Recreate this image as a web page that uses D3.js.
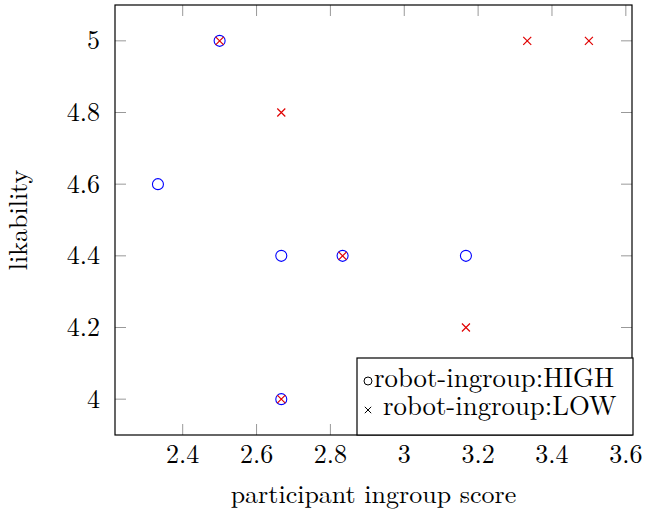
<!DOCTYPE html>
<html>
<head>
<script src="https://d3js.org/d3.v7.min.js"></script>
<style>
  body { margin: 0; background: #fff; }
</style>
</head>
<body>
<svg width="646" height="512" font-family="'Latin Modern Roman', 'CMU Serif', 'Liberation Serif', serif"></svg>
<script>
// data
const highX = [2.333, 2.5, 2.667, 2.667, 2.833, 3.167];
const highY = [4.6, 5, 4.4, 4, 4.4, 4.4];
const lowX = [2.5, 2.667, 2.667, 2.833, 3.167, 3.333, 3.5];
const lowY = [5, 4.8, 4, 4.4, 4.2, 5, 5];
const xTicks = [2.4, 2.6, 2.8, 3, 3.2, 3.4, 3.6];
const yTicks = [4, 4.2, 4.4, 4.6, 4.8, 5];
const legendLabels = ["robot-ingroup:HIGH", "robot-ingroup:LOW"];

const svg = d3.select("svg");
const pLeft = 115, pRight = 632, pTop = 5, pBottom = 435;
const fontSize = 26;

const x = d3.scaleLinear().domain([2.2167, 3.6167]).range([pLeft, pRight]);
const y = d3.scaleLinear().domain([3.9, 5.1]).range([pBottom, pTop]);

const fmt = d => String(+d.toFixed(1));
const tickLen = 11, tickColor = "#999";

// ticks inside on all four sides
const grid = svg.append("g").attr("stroke", tickColor).attr("stroke-width", 1);
xTicks.forEach(t => {
  grid.append("line").attr("x1", x(t)).attr("x2", x(t)).attr("y1", pBottom).attr("y2", pBottom - tickLen);
  grid.append("line").attr("x1", x(t)).attr("x2", x(t)).attr("y1", pTop).attr("y2", pTop + tickLen);
});
yTicks.forEach(t => {
  grid.append("line").attr("x1", pLeft).attr("x2", pLeft + tickLen).attr("y1", y(t)).attr("y2", y(t));
  grid.append("line").attr("x1", pRight).attr("x2", pRight - tickLen).attr("y1", y(t)).attr("y2", y(t));
});

// tick labels
svg.append("g").selectAll("text").data(xTicks).join("text")
  .attr("x", d => x(d)).attr("y", 463)
  .attr("text-anchor", "middle").attr("font-size", fontSize)
  .text(fmt);
svg.append("g").selectAll("text").data(yTicks).join("text")
  .attr("x", 100).attr("y", d => y(d) + 8.5)
  .attr("text-anchor", "end").attr("font-size", fontSize)
  .text(fmt);

// frame
svg.append("rect").attr("x", pLeft).attr("y", pTop).attr("width", pRight - pLeft).attr("height", pBottom - pTop)
  .attr("fill", "none").attr("stroke", "#000").attr("stroke-width", 1.2);

// axis titles
svg.append("text").attr("x", (pLeft + pRight) / 2).attr("y", 503)
  .attr("text-anchor", "middle").attr("font-size", fontSize).text("participant ingroup score");
svg.append("text").attr("transform", `translate(27,${(pTop + pBottom) / 2}) rotate(-90)`)
  .attr("text-anchor", "middle").attr("font-size", fontSize).text("likability");

// marks
const high = highX.map((v, i) => [v, highY[i]]);
const low = lowX.map((v, i) => [v, lowY[i]]);

svg.append("g").selectAll("circle").data(high).join("circle")
  .attr("cx", d => x(d[0])).attr("cy", d => y(d[1])).attr("r", 5.5)
  .attr("fill", "none").attr("stroke", "#0000ff").attr("stroke-width", 1.1);

const cross = (g, s) => g.attr("d", `M${-s},${-s}L${s},${s}M${-s},${s}L${s},${-s}`);
svg.append("g").selectAll("path").data(low).join("path")
  .attr("transform", d => `translate(${x(d[0])},${y(d[1])})`)
  .call(cross, 4)
  .attr("fill", "none").attr("stroke", "#e00000").attr("stroke-width", 1.2);

// legend
const lg = svg.append("g");
lg.append("rect").attr("x", 357).attr("y", 358).attr("width", 633 - 357).attr("height", pBottom - 358)
  .attr("fill", "#fff").attr("stroke", "#000").attr("stroke-width", 1.2);
lg.append("circle").attr("cx", 368).attr("cy", 381).attr("r", 4)
  .attr("fill", "none").attr("stroke", "#000").attr("stroke-width", 1);
lg.append("path").attr("transform", "translate(368,410)").call(cross, 3.2)
  .attr("fill", "none").attr("stroke", "#000").attr("stroke-width", 1);
lg.selectAll("text").data(legendLabels).join("text")
  .attr("x", (d, i) => i === 0 ? 374 : 383).attr("y", (d, i) => 387 + i * 28)
  .attr("font-size", 26.8).text(d => d);
</script>
</body>
</html>
